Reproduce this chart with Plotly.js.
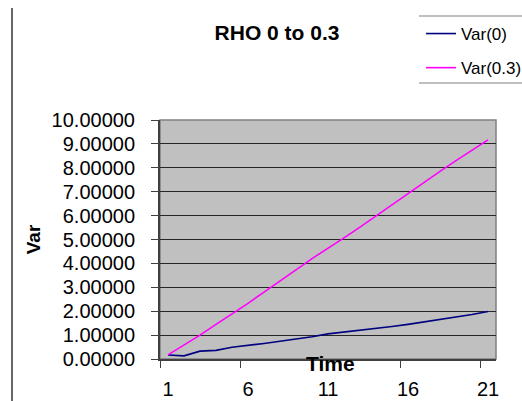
<!DOCTYPE html>
<html>
<head>
<meta charset="utf-8">
<script src="https://cdn.plot.ly/plotly-3.0.1.min.js"></script>
<style>html,body{margin:0;padding:0;background:#fff;}#chart{width:522px;height:401px;}</style>
</head>
<body>
<div id="chart"></div>
<script>
// Data
var timeSteps = [1,2,3,4,5,6,7,8,9,10,11,12,13,14,15,16,17,18,19,20,21];
var var0 = [0.17,0.13,0.33,0.36,0.49,0.56,0.65,0.74,0.82,0.93,1.05,1.12,1.19,1.27,1.36,1.45,1.55,1.63,1.74,1.86,1.99];
var var03 = [0.17,0.57,1.00,1.45,1.88,2.33,2.80,3.28,3.73,4.20,4.62,5.07,5.52,5.99,6.46,6.94,7.38,7.85,8.30,8.75,9.17];
var seriesNames = ['Var(0)', 'Var(0.3)'];
var xTickVals = [0.5, 5.5, 10.5, 15.5, 20.5];
var xTickText = ['1', '6', '11', '16', '21'];
var yTickVals = [0,1,2,3,4,5,6,7,8,9,10];

var FONT = 'Liberation Sans, Arial, sans-serif';

var traces = [
  {x: timeSteps, y: var0, name: seriesNames[0], type: 'scatter', mode: 'lines',
   line: {color: '#000080', width: 1.6}, legendgroup: 'a'},
  {x: timeSteps, y: var03, name: seriesNames[1], type: 'scatter', mode: 'lines',
   line: {color: '#FF00FF', width: 1.6}, legendgroup: 'b'}
];

var layout = {
  width: 522, height: 401,
  margin: {l: 160, r: 26, t: 120, b: 42, pad: 0, autoexpand: false},
  paper_bgcolor: '#ffffff',
  plot_bgcolor: '#C0C0C0',
  font: {family: FONT, color: '#000'},
  title: {text: '<b>RHO 0 to 0.3</b>', font: {size: 21, family: FONT, color: '#000'},
          x: 277/522, xref: 'container', xanchor: 'center',
          y: 1 - 33/401, yref: 'container', yanchor: 'middle'},
  showlegend: true,
  legend: {x: 421/522, xref: 'container', y: 1 - 16/401, yref: 'container',
           xanchor: 'left', yanchor: 'top', bgcolor: 'rgba(0,0,0,0)', borderwidth: 0,
           font: {size: 17, family: FONT, color: '#000'},
           traceorder: 'grouped', tracegroupgap: 9},
  xaxis: {
    range: [0.5, 21.5], tickmode: 'array', tickvals: xTickVals, ticktext: xTickText,
    ticklabelshift: 8, ticks: 'outside', ticklen: 7, tickcolor: '#404040', tickwidth: 1,
    ticklabelstandoff: 4,
    showgrid: false, zeroline: false, showline: true, linecolor: '#404040', linewidth: 1.5,
    tickfont: {size: 20, family: FONT, color: '#000'}, fixedrange: true
  },
  yaxis: {
    range: [0, 10], tickmode: 'array', tickvals: yTickVals, tickformat: '.5f',
    ticks: 'outside', ticklen: 7, tickcolor: '#404040', tickwidth: 1,
    ticklabelstandoff: 12,
    showgrid: true, gridcolor: '#262626', gridwidth: 1, zeroline: false,
    showline: true, linecolor: '#404040', linewidth: 2,
    tickfont: {size: 20, family: FONT, color: '#000'},
    title: {text: '<b>Var</b>', font: {size: 19, family: FONT, color: '#000'}, standoff: 6},
    fixedrange: true
  },
  annotations: [
    {text: '<b>Time</b>', xref: 'paper', yref: 'paper', x: (330-160)/336, y: (359-363)/239,
     xanchor: 'center', yanchor: 'middle', showarrow: false,
     font: {size: 21, family: FONT, color: '#000'}}
  ],
  shapes: [
    {type: 'rect', xref: 'paper', yref: 'paper', x0: 0, x1: 1, y0: 0, y1: 1,
     line: {color: '#808080', width: 1.5}, layer: 'below'},
    {type: 'line', xref: 'paper', yref: 'paper', x0: (419-160)/336, x1: (522-160)/336,
     y0: (359-16)/239, y1: (359-16)/239, line: {color: '#808080', width: 1.2}},
    {type: 'line', xref: 'paper', yref: 'paper', x0: (419-160)/336, x1: (522-160)/336,
     y0: (359-83)/239, y1: (359-83)/239, line: {color: '#808080', width: 1.2}},
    {type: 'line', xref: 'paper', yref: 'paper', x0: (12-160)/336, x1: (12-160)/336,
     y0: (359-8)/239, y1: (359-401)/239, line: {color: '#000', width: 1.2}}
  ]
};

Plotly.newPlot('chart', traces, layout, {displayModeBar: false, staticPlot: true});
</script>
</body>
</html>
